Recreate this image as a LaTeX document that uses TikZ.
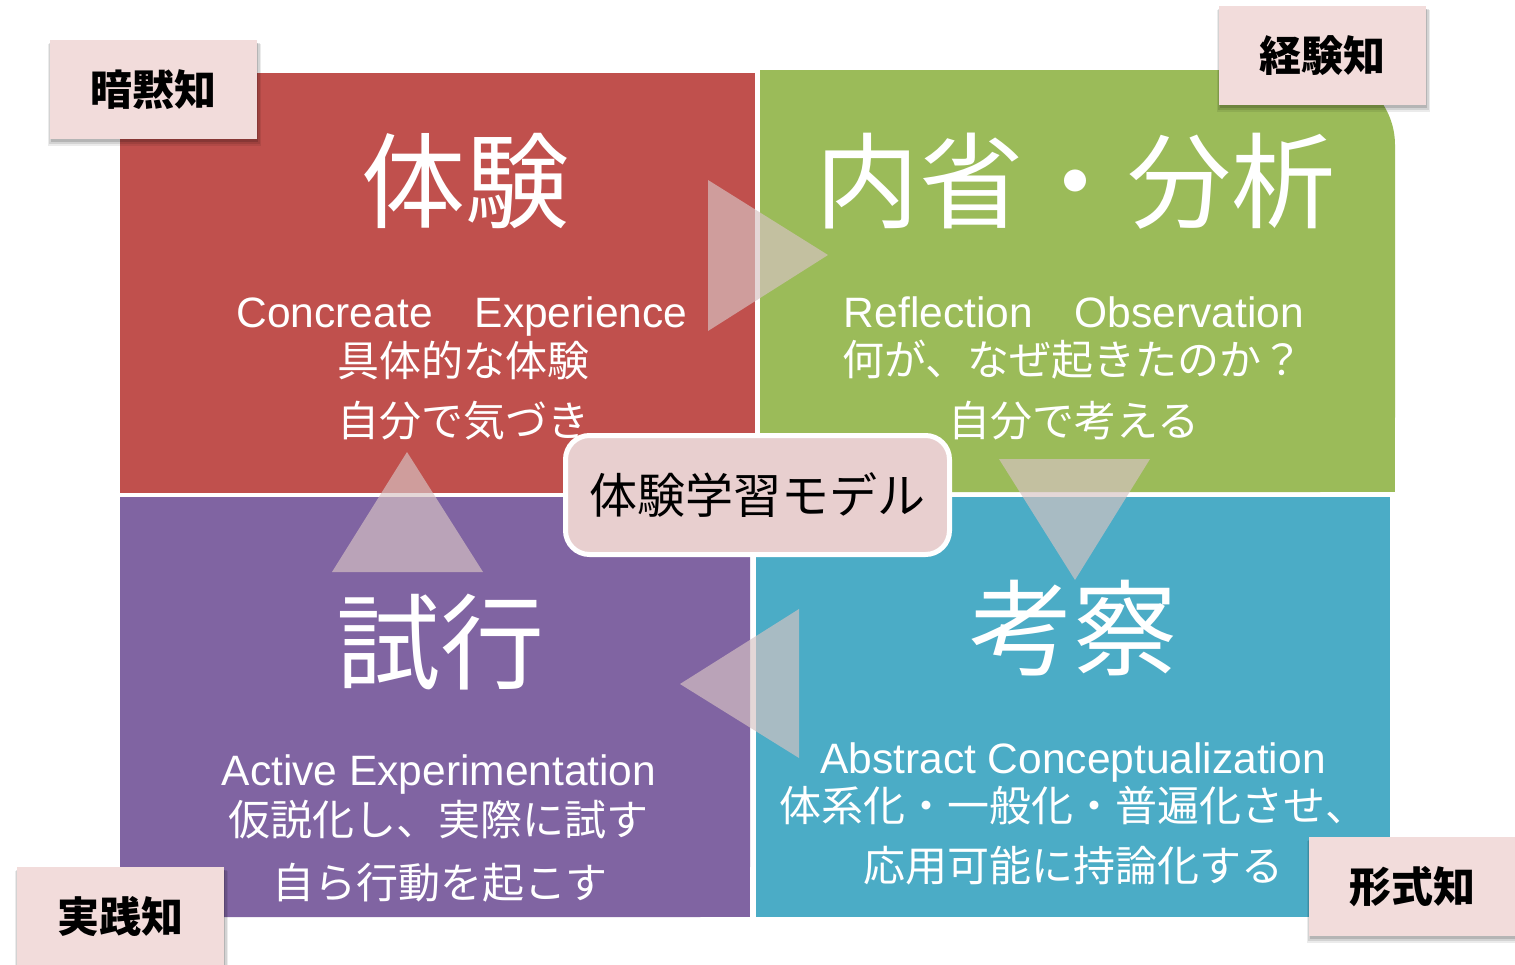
\documentclass[tikz,border=0pt]{standalone}
\usepackage{fontspec}
\setmainfont{Noto Sans CJK JP}
\newfontfamily\jp{Noto Sans CJK JP}
\newfontfamily\lat{Liberation Sans}
\usetikzlibrary{shadows}

\definecolor{qred}{RGB}{192,80,77}
\definecolor{qgreen}{RGB}{155,187,89}
\definecolor{qpurple}{RGB}{128,100,162}
\definecolor{qblue}{RGB}{75,172,198}
\definecolor{tagfill}{RGB}{242,220,219}
\definecolor{hubfill}{RGB}{232,207,207}
\definecolor{arrowfill}{RGB}{215,195,195}

\tikzset{
  bigtxt/.style={text=white, inner sep=0pt, anchor=center, font=\jp\fontsize{104}{120}\selectfont},
  midtxt/.style={text=white, inner sep=0pt, anchor=center, font=\jp\fontsize{42}{50}\selectfont},
  lattxt/.style={text=white, inner sep=0pt, anchor=base, font=\lat\fontsize{42.5}{50}\selectfont},
  tagbox/.style={fill=tagfill, minimum width=207pt, minimum height=99pt, inner sep=0pt,
    font=\jp\bfseries\fontsize{42}{50}\selectfont, text=black,
    general shadow={shadow xshift=1pt, shadow yshift=-5pt, shadow scale=1.03, opacity=0.08, fill=black},
    general shadow={shadow xshift=1pt, shadow yshift=-4pt, shadow scale=1.015, opacity=0.1, fill=black},
    general shadow={shadow xshift=1pt, shadow yshift=-3pt, opacity=0.14, fill=black}},
  hubbox/.style={fill=hubfill, draw=white, line width=5pt, rounded corners=24pt,
    minimum width=384pt, minimum height=119pt, inner sep=0pt,
    font=\jp\fontsize{48}{56}\selectfont, text=black},
  flowarrow/.style={fill=arrowfill, fill opacity=0.67}
}

\begin{document}
\begin{tikzpicture}[x=1pt, y=-1pt]
\useasboundingbox (0,0) rectangle (1515,964);

% four quadrants of the cycle, outer corners rounded where visible
\fill[qred] (120,73) rectangle (755,493);
\fill[qgreen, rounded corners=75pt] (760,70) rectangle (1395,492);
\fill[qgreen] (760,70) rectangle (1300,492);
\fill[qgreen] (760,160) rectangle (1395,492);
\fill[qpurple, rounded corners=50pt] (120,497) rectangle (750,917);
\fill[qpurple] (200,497) rectangle (750,917);
\fill[qpurple] (120,497) rectangle (750,840);
\fill[qblue] (756,497) rectangle (1390,917);

% Concrete experience
\node[bigtxt] (ce) at (465,181) {体験};
\node[lattxt] (ceen) at (462,327) {Concreate\hspace{42pt}Experience};
\node[midtxt] (ceja) at (463,360) {具体的な体験};
\node[midtxt] (cenote) at (463,421) {自分で気づき};

% Reflective observation
\node[bigtxt] (ro) at (1075,181) {内省・分析};
\node[lattxt] (roen) at (1074,327) {Reflection\hspace{42pt}Observation};
\node[midtxt] (roja) at (1073,360) {何が、なぜ起きたのか？};
\node[midtxt] (ronote) at (1074,421) {自分で考える};

% Active experimentation
\node[bigtxt] (ae) at (440,642) {試行};
\node[lattxt] (aeen) at (439,785) {Active Experimentation};
\node[midtxt] (aeja) at (438,820) {仮説化し、実際に試す};
\node[midtxt] (aenote) at (440,883) {自ら行動を起こす};

% Abstract conceptualization
\node[bigtxt] (ac) at (1073,628) {考察};
\node[lattxt] (acen) at (1073,773) {Abstract Conceptualization};
\node[midtxt] (acja) at (1073,806) {体系化・一般化・普遍化させ、};
\node[midtxt] (acnote) at (1073,866) {応用可能に持論化する};

% translucent arrows of the cycle
\fill[flowarrow] (708,180) -- (828,255) -- (708,331) -- cycle;
\fill[flowarrow] (999,459) -- (1150,459) -- (1075,580) -- cycle;
\fill[flowarrow] (799,609) -- (680,684) -- (799,758) -- cycle;
\fill[flowarrow] (332,572) -- (407,452) -- (483,572) -- cycle;

% model title in the middle
\node[hubbox] (hub) at (757.5,495) {体験学習モデル};

% knowledge tags at the corners
\node[tagbox] (tacit) at (153.5,89.5) {暗黙知};
\node[tagbox] (exper) at (1322.5,55.5) {経験知};
\node[tagbox] (pract) at (120.5,916.5) {実践知};
\node[tagbox, minimum width=206pt] (formal) at (1412,886.5) {形式知};
\end{tikzpicture}
\end{document}
